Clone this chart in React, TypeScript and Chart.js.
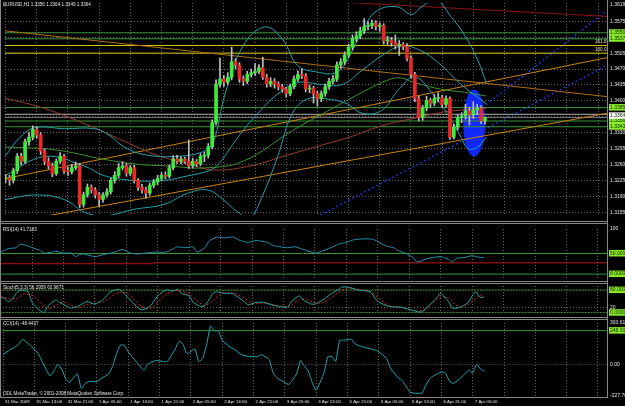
import React, { useEffect, useRef } from "react";
import { Chart, registerables } from "chart.js";
Chart.register(...registerables);

const FONT = "'Liberation Sans', Arial, sans-serif";
const TEXT = "#e4e4e4";
const GRID = "rgba(125,125,125,0.8)";
const BULL = "rgb(60,235,60)";
const BEAR = "rgb(235,40,40)";
const WICK = "rgb(190,190,190)";
const TEAL = "rgb(35,160,170)";
const LVL_GREEN = "rgb(60,150,60)";
const LBL_GREEN = "rgb(135,235,40)";
const X_MIN = -0.15;
const X_MAX = 154.3;

// ---------- time axis ----------
const timeLabels = [
  "31 Mar 2009", "31 Mar 13:00", "31 Mar 21:00", "1 Apr 05:00", "1 Apr 13:00", "1 Apr 21:00",
  "2 Apr 05:00", "2 Apr 13:00", "2 Apr 21:00", "3 Apr 05:00", "3 Apr 13:00", "5 Apr 21:00",
  "6 Apr 05:00", "6 Apr 13:00", "6 Apr 21:00", "7 Apr 05:00",
];
const timeLabelBars = [0, 8, 16, 24, 32, 40, 48, 56, 64, 72, 80, 88, 96, 104, 112, 120];
const gridBars = [0, 8, 16, 24, 32, 40, 48, 56, 64, 72, 80, 88, 96, 104, 112, 120, 128, 136, 144, 152];

// ---------- EURUSD H1 candles ----------
const opens = [
  1.3228, 1.3231, 1.3225, 1.3246, 1.3278, 1.3267, 1.3310, 1.3320, 1.3337, 1.3325,
  1.3289, 1.3267, 1.3257, 1.3240, 1.3267, 1.3278, 1.3246, 1.3244, 1.3253, 1.3257,
  1.3172, 1.3193, 1.3210, 1.3204, 1.3193, 1.3183, 1.3193, 1.3200, 1.3225, 1.3236,
  1.3253, 1.3257, 1.3240, 1.3253, 1.3225, 1.3210, 1.3204, 1.3197, 1.3214, 1.3221,
  1.3229, 1.3236, 1.3234, 1.3253, 1.3272, 1.3267, 1.3272, 1.3267, 1.3257, 1.3267,
  1.3261, 1.3278, 1.3280, 1.3299, 1.3352, 1.3437, 1.3448, 1.3441, 1.3452, 1.3486,
  1.3479, 1.3448, 1.3443, 1.3458, 1.3462, 1.3465, 1.3473, 1.3452, 1.3437, 1.3443,
  1.3437, 1.3431, 1.3426, 1.3416, 1.3431, 1.3448, 1.3458, 1.3455, 1.3426, 1.3428,
  1.3416, 1.3405, 1.3416, 1.3431, 1.3443, 1.3448, 1.3479, 1.3486, 1.3501, 1.3518,
  1.3537, 1.3543, 1.3554, 1.3564, 1.3566, 1.3571, 1.3564, 1.3566, 1.3532, 1.3534,
  1.3528, 1.3522, 1.3524, 1.3520, 1.3494, 1.3458, 1.3405, 1.3363, 1.3384, 1.3401,
  1.3395, 1.3405, 1.3407, 1.3392, 1.3405, 1.3320, 1.3342, 1.3363, 1.3367, 1.3378,
  1.3369, 1.3380, 1.3384, 1.3356,
];
const highs = [
  1.3238, 1.3236, 1.3252, 1.3284, 1.3285, 1.3316, 1.3331, 1.3345, 1.3343, 1.3330,
  1.3294, 1.3275, 1.3263, 1.3272, 1.3286, 1.3282, 1.3254, 1.3260, 1.3265, 1.3262,
  1.3199, 1.3217, 1.3215, 1.3209, 1.3198, 1.3198, 1.3207, 1.3230, 1.3244, 1.3262,
  1.3266, 1.3262, 1.3258, 1.3258, 1.3229, 1.3216, 1.3210, 1.3219, 1.3227, 1.3236,
  1.3242, 1.3244, 1.3259, 1.3279, 1.3280, 1.3277, 1.3276, 1.3314, 1.3274, 1.3271,
  1.3284, 1.3287, 1.3306, 1.3358, 1.3446, 1.3494, 1.3456, 1.3462, 1.3518, 1.3493,
  1.3484, 1.3455, 1.3465, 1.3470, 1.3482, 1.3480, 1.3496, 1.3458, 1.3451, 1.3449,
  1.3442, 1.3436, 1.3430, 1.3437, 1.3455, 1.3466, 1.3470, 1.3460, 1.3435, 1.3432,
  1.3421, 1.3422, 1.3437, 1.3450, 1.3456, 1.3486, 1.3493, 1.3508, 1.3525, 1.3545,
  1.3552, 1.3562, 1.3581, 1.3574, 1.3578, 1.3576, 1.3572, 1.3570, 1.3542, 1.3540,
  1.3545, 1.3533, 1.3528, 1.3526, 1.3499, 1.3463, 1.3410, 1.3390, 1.3410, 1.3406,
  1.3414, 1.3418, 1.3412, 1.3411, 1.3409, 1.3348, 1.3370, 1.3374, 1.3392, 1.3386,
  1.3398, 1.3392, 1.3389, 1.3364,
];
const lows = [
  1.3220, 1.3214, 1.3219, 1.3240, 1.3259, 1.3262, 1.3302, 1.3314, 1.3318, 1.3282,
  1.3259, 1.3250, 1.3233, 1.3236, 1.3262, 1.3240, 1.3236, 1.3239, 1.3248, 1.3165,
  1.3166, 1.3188, 1.3197, 1.3186, 1.3168, 1.3177, 1.3188, 1.3195, 1.3219, 1.3231,
  1.3248, 1.3234, 1.3235, 1.3219, 1.3203, 1.3197, 1.3186, 1.3192, 1.3209, 1.3215,
  1.3224, 1.3228, 1.3230, 1.3248, 1.3262, 1.3261, 1.3262, 1.3251, 1.3252, 1.3255,
  1.3257, 1.3266, 1.3274, 1.3294, 1.3347, 1.3430, 1.3432, 1.3436, 1.3446, 1.3470,
  1.3441, 1.3434, 1.3438, 1.3452, 1.3456, 1.3460, 1.3447, 1.3430, 1.3431, 1.3428,
  1.3424, 1.3419, 1.3408, 1.3411, 1.3426, 1.3443, 1.3449, 1.3420, 1.3418, 1.3395,
  1.3388, 1.3398, 1.3410, 1.3425, 1.3437, 1.3443, 1.3472, 1.3480, 1.3495, 1.3512,
  1.3530, 1.3537, 1.3548, 1.3556, 1.3559, 1.3556, 1.3553, 1.3525, 1.3524, 1.3520,
  1.3514, 1.3500, 1.3512, 1.3488, 1.3450, 1.3398, 1.3356, 1.3357, 1.3378, 1.3386,
  1.3389, 1.3398, 1.3386, 1.3386, 1.3315, 1.3316, 1.3336, 1.3352, 1.3360, 1.3347,
  1.3361, 1.3370, 1.3350, 1.3349,
];
const closes = [
  1.3231, 1.3225, 1.3246, 1.3278, 1.3267, 1.3310, 1.3320, 1.3337, 1.3325, 1.3289,
  1.3267, 1.3257, 1.3240, 1.3267, 1.3278, 1.3246, 1.3244, 1.3253, 1.3257, 1.3172,
  1.3193, 1.3210, 1.3204, 1.3193, 1.3183, 1.3193, 1.3200, 1.3225, 1.3236, 1.3253,
  1.3257, 1.3240, 1.3253, 1.3225, 1.3210, 1.3204, 1.3197, 1.3214, 1.3221, 1.3229,
  1.3236, 1.3234, 1.3253, 1.3272, 1.3267, 1.3272, 1.3267, 1.3257, 1.3267, 1.3261,
  1.3278, 1.3280, 1.3299, 1.3352, 1.3437, 1.3448, 1.3441, 1.3452, 1.3486, 1.3479,
  1.3448, 1.3443, 1.3458, 1.3462, 1.3465, 1.3473, 1.3452, 1.3437, 1.3443, 1.3437,
  1.3431, 1.3426, 1.3416, 1.3431, 1.3448, 1.3458, 1.3455, 1.3426, 1.3428, 1.3416,
  1.3405, 1.3416, 1.3431, 1.3443, 1.3448, 1.3479, 1.3486, 1.3501, 1.3518, 1.3537,
  1.3543, 1.3554, 1.3564, 1.3566, 1.3571, 1.3564, 1.3566, 1.3532, 1.3534, 1.3528,
  1.3522, 1.3524, 1.3520, 1.3494, 1.3458, 1.3405, 1.3363, 1.3384, 1.3401, 1.3395,
  1.3405, 1.3407, 1.3392, 1.3405, 1.3320, 1.3342, 1.3363, 1.3367, 1.3378, 1.3369,
  1.3380, 1.3384, 1.3356, 1.3364,
];

// ---------- overlays on the price window: [bar, price] ----------
const bbUpper = [
  [-0.15, 1.32775], [3.7, 1.33197], [7.5, 1.33409], [15.1, 1.33387], [22.8, 1.33387], [26.6, 1.3324],
  [30.4, 1.32986], [35.5, 1.32817], [43.1, 1.32775], [50.7, 1.32881], [53.3, 1.33092], [56.3, 1.34148],
  [60.9, 1.35204], [66.5, 1.35626], [71.1, 1.35352], [74.9, 1.34781], [80.0, 1.34634], [85.1, 1.34634],
  [88.9, 1.35098], [92.0, 1.35626], [95.3, 1.35985], [100.4, 1.3607], [104.2, 1.35901], [106.7, 1.3607],
  [110.5, 1.36218], [114.4, 1.35837], [117.7, 1.35457], [121.2, 1.34887], [123.3, 1.34401],
];
const bbMiddle = [
  [-0.15, 1.32353], [10.0, 1.32775], [20.2, 1.32564], [25.3, 1.32353], [33.0, 1.32247], [40.6, 1.32247],
  [46.9, 1.32353], [52.0, 1.32458], [54.6, 1.32606], [59.6, 1.33197], [64.7, 1.33725], [69.8, 1.34148],
  [74.9, 1.34401], [81.3, 1.34359], [86.4, 1.34359], [91.5, 1.34676], [96.5, 1.34993], [101.6, 1.35204],
  [106.7, 1.35098], [111.8, 1.34781], [116.9, 1.34359], [123.3, 1.33937],
];
const bbLower = [
  [-0.15, 1.31825], [7.5, 1.3193], [15.1, 1.31825], [20.2, 1.3155], [25.3, 1.31466], [33.0, 1.31613],
  [40.6, 1.31719], [46.9, 1.31972], [52.0, 1.32036], [55.8, 1.31825], [59.6, 1.3155], [62.7, 1.31423],
  [66.0, 1.3193], [69.8, 1.32775], [73.6, 1.33725], [77.5, 1.34042], [82.5, 1.34042], [87.6, 1.33937],
  [91.5, 1.33725], [96.5, 1.33789], [100.9, 1.34253], [105.0, 1.34528], [110.0, 1.34106], [113.6, 1.33683],
  [116.9, 1.33197], [118.7, 1.32944], [121.2, 1.32986], [123.3, 1.33197],
];
const maGreen = [
  [-0.15, 1.32986], [12.6, 1.32923], [25.3, 1.32712], [33.7, 1.32606], [42.3, 1.32564], [50.7, 1.32522],
  [60.9, 1.32669], [73.6, 1.33345], [83.8, 1.33831], [89.7, 1.34106], [96.5, 1.34401], [100.9, 1.34507],
  [105.0, 1.34401], [111.8, 1.34253], [117.7, 1.3419], [123.3, 1.34106],
];
const maRed = [
  [-0.15, 1.34064], [10.0, 1.33831], [21.0, 1.33472], [33.7, 1.32986], [39.8, 1.32775], [46.4, 1.32627],
  [53.3, 1.32479], [62.7, 1.32564], [71.1, 1.32775], [79.5, 1.32986], [88.1, 1.33197], [96.5, 1.33451],
  [105.0, 1.3362], [113.6, 1.33768], [123.3, 1.33831],
];
const trendDown = [[-0.15, 1.35542], [154.3, 1.34093]];
const trendUpHigh = [[-0.15, 1.32289], [154.3, 1.3495]];
const trendUpLow = [[-0.15, 1.31297], [154.3, 1.33725]];
const trendTop = [[85.0, 1.36179], [154.3, 1.35858]];
const blueLineA = [[80.8, 1.31487], [154.3, 1.34781]];
const blueLineB = [[123.3, 1.33915], [154.3, 1.35985]];
const greenLevels = [1.35499, 1.35366, 1.33852, 1.33556, 1.3343];
const fiboLevels = [1.35219, 1.3505];
const greyLevel = 1.33704;
const bidLevel = 1.33632;
const ellipseCenter = [120.2, 1.33514];

// ---------- sub windows: [bar, value] ----------
const rsi = [
  [0, 52.7], [2, 60.0], [4, 61.8], [5, 69.1], [7, 65.5], [8, 61.8], [10, 56.4], [11, 50.9], [13, 52.7],
  [14, 54.5], [16, 50.9], [18, 50.9], [19, 43.6], [20, 47.3], [21, 49.1], [24, 43.6], [26, 47.3],
  [29, 52.7], [31, 58.2], [33, 50.9], [35, 49.1], [39, 52.7], [42, 52.7], [44, 60.0], [45, 63.6],
  [47, 61.8], [49, 63.6], [50, 52.7], [52, 61.8], [53, 74.5], [55, 83.6], [57, 81.8], [59, 83.6],
  [61, 76.4], [63, 72.7], [65, 76.4], [68, 72.7], [69, 67.3], [71, 63.6], [73, 61.8], [75, 63.6],
  [77, 58.2], [80, 50.9], [81, 52.7], [84, 61.8], [86, 69.1], [88, 72.7], [90, 78.2], [93, 80.0],
  [95, 78.2], [98, 65.5], [100, 61.8], [101, 56.4], [103, 50.9], [105, 41.8], [106, 32.7], [108, 38.2],
  [110, 41.8], [112, 43.6], [114, 38.2], [115, 32.7], [116, 40.0], [118, 41.8], [120, 45.5], [122, 41.8],
  [123, 41.7],
];
const rsiRedLine = [[-0.15, 29.1], [39, 29.1], [39, 30.9], [154.3, 30.9]];
const rsiLevels = [50, 8];

const stochMain = [
  [0, 54.2], [1, 51.4], [2, 39.9], [3, 48.5], [4, 68.5], [5, 79.9], [7, 74.2], [8, 37.1], [10, 8.6],
  [11, 1.5], [12, 22.8], [14, 45.6], [15, 37.1], [17, 22.8], [18, 17.1], [20, 25.7], [22, 39.9],
  [24, 31.4], [26, 45.6], [28, 74.2], [30, 82.7], [31, 74.2], [33, 45.6], [35, 17.1], [36, 11.4],
  [38, 22.8], [40, 59.9], [42, 79.9], [44, 77.0], [45, 82.7], [46, 68.5], [48, 59.9], [49, 37.1],
  [51, 22.8], [52, 25.7], [53, 45.6], [54, 68.5], [55, 74.2], [57, 68.5], [59, 68.5], [60, 59.9],
  [62, 39.9], [63, 28.5], [65, 37.1], [67, 37.1], [69, 28.5], [71, 22.8], [73, 20.0], [74, 39.9],
  [76, 59.9], [77, 45.6], [79, 31.4], [80, 31.4], [82, 45.6], [84, 65.6], [86, 82.7], [87, 91.3],
  [89, 88.4], [91, 79.9], [94, 74.2], [96, 39.9], [99, 22.8], [102, 20.0], [105, 8.6], [107, 2.9],
  [109, 25.7], [111, 54.2], [112, 68.5], [114, 39.9], [115, 17.1], [117, 20.0], [119, 37.1],
  [120, 59.9], [121, 74.2], [122, 54.2], [123, 56.3],
];
const stochSignal = [
  [0, 58], [2, 50], [4, 50], [6, 66], [8, 62], [10, 38], [12, 14], [14, 26], [16, 38], [18, 26], [20, 20],
  [22, 30], [24, 34], [26, 38], [28, 55], [30, 72], [32, 70], [34, 48], [36, 22], [38, 15], [40, 38],
  [42, 62], [44, 78], [46, 76], [48, 66], [50, 42], [52, 26], [54, 42], [56, 66], [58, 70], [60, 66],
  [62, 52], [64, 34], [66, 34], [68, 34], [70, 26], [72, 22], [74, 28], [76, 46], [78, 46], [80, 36],
  [82, 36], [84, 52], [86, 72], [88, 86], [90, 86], [92, 80], [94, 76], [96, 54], [98, 32], [100, 22],
  [102, 18], [104, 12], [106, 6], [108, 12], [110, 36], [112, 56], [114, 52], [116, 26], [118, 24],
  [120, 40], [122, 62], [123, 63.0],
];
const stochLevels = [80, 1];

const cci = [
  [0, 72.7], [1, 93.7], [3, 128.7], [4, 149.7], [5, 184.6], [6, 163.6], [7, 142.7], [9, 79.7], [10, 23.8],
  [11, -32.2], [12, -81.1], [13, -46.2], [14, 2.8], [15, -32.2], [16, -102.1], [17, -130.1], [18, -95.1],
  [19, -67.1], [20, -172.0], [21, -137.1], [22, -123.1], [24, -123.1], [25, -102.1], [27, -67.1],
  [28, -11.2], [29, 79.7], [30, 142.7], [31, 142.7], [32, 93.7], [34, 23.8], [36, -39.2], [37, 2.8],
  [39, 30.8], [41, 23.8], [42, 23.8], [44, 114.7], [45, 170.6], [46, 149.7], [47, 79.7], [49, 114.7],
  [50, 23.8], [51, 44.8], [52, 142.7], [53, 282.5], [54, 247.6], [55, 247.6], [56, 177.6], [58, 128.7],
  [59, 114.7], [61, 72.7], [63, 58.7], [65, 58.7], [66, 72.7], [68, 37.8], [69, -60.1], [70, -95.1],
  [72, -130.1], [73, -144.1], [75, -67.1], [76, 30.8], [77, -11.2], [78, -46.2], [79, -130.1],
  [80, -186.0], [82, -60.1], [83, 58.7], [84, 58.7], [85, 23.8], [86, 177.6], [87, 177.6], [89, 184.6],
  [90, 149.7], [92, 128.7], [95, 107.7], [96, 93.7], [98, 44.8], [99, -25.2], [101, -95.1],
  [102, -116.1], [104, -200.0], [105, -207.0], [107, -207.0], [108, -151.0], [109, -102.1],
  [110, -81.1], [112, -53.1], [113, -60.1], [114, -116.1], [115, -137.1], [117, -95.1], [118, -67.1],
  [119, -39.2], [120, -60.1], [121, 2.8], [122, -32.2], [123, -48.4],
];
const cciLevel = 248;

// ---------- helpers ----------
const pts = (arr: number[][]) => arr.map((p) => ({ x: p[0], y: p[1] }));
const curve = (arr: number[][], color: string, extra: any = {}) => ({
  type: "line", data: pts(arr), borderColor: color, borderWidth: 1, pointRadius: 0,
  tension: 0.4, fill: false, ...extra,
});
const straight = (arr: number[][], color: string, extra: any = {}) => ({
  type: "line", data: pts(arr), borderColor: color, borderWidth: 1, pointRadius: 0,
  tension: 0, fill: false, ...extra,
});
const hline = (v: number, color: string, extra: any = {}) =>
  straight([[-1, v], [160, v]], color, extra);

const xScale = (showLabels: boolean) => ({
  type: "linear", min: X_MIN, max: X_MAX, offset: false,
  afterBuildTicks: (s: any) => { s.ticks = gridBars.map((v) => ({ value: v })); },
  afterFit: (s: any) => { s.height = showLabels ? 10 : 0; },
  grid: { color: GRID, lineWidth: 1, drawTicks: false, offset: false },
  border: { display: false, dash: [1, 2] },
  ticks: {
    display: showLabels, autoSkip: false, maxRotation: 0, minRotation: 0, align: "start",
    labelOffset: 2, padding: 3, color: TEXT, font: { family: FONT, size: 4.4 },
    callback: (v: number) => { const k = timeLabelBars.indexOf(v); return k >= 0 ? timeLabels[k] : ""; },
  },
});

type TickDef = { v: number; l: string; g?: string; bg?: string };
const yScale = (min: number, max: number, list: TickDef[]) => ({
  type: "linear", position: "right", min, max,
  afterBuildTicks: (s: any) => { s.ticks = list.map((t) => ({ value: t.v })); },
  afterFit: (s: any) => { s.width = 18; },
  grid: {
    color: (c: any) => (list[c.index] && list[c.index].g) || "rgba(0,0,0,0)",
    lineWidth: 1, drawTicks: false,
  },
  border: { display: false, dash: [1, 2] },
  ticks: {
    autoSkip: false, padding: 3, font: { family: FONT, size: 5 },
    color: (c: any) => (list[c.index] && list[c.index].bg ? "#102000" : TEXT),
    showLabelBackdrop: true,
    backdropColor: (c: any) => (list[c.index] && list[c.index].bg) || "rgba(0,0,0,0)",
    backdropPadding: { top: 0.5, bottom: 0, left: 1, right: 4 },
    callback: (_v: number, i: number) => (list[i] ? list[i].l : ""),
  },
});

const baseOptions = (padTop: number, padBottom: number, x: any, y: any) => ({
  responsive: false, maintainAspectRatio: false, animation: false, devicePixelRatio: 1, events: [],
  layout: { padding: { top: padTop, bottom: padBottom, left: 0, right: 0 } },
  plugins: { legend: { display: false }, tooltip: { enabled: false }, title: { display: false } },
  scales: { x, y },
});

// ---------- tick lists ----------
const mainTicks: TickDef[] = [
  { v: 1.3155, l: "1.3155", g: GRID }, { v: 1.319, l: "1.3190", g: GRID }, { v: 1.3225, l: "1.3225", g: GRID },
  { v: 1.326, l: "1.3260", g: GRID }, { v: 1.3295, l: "1.3295", g: GRID }, { v: 1.333, l: "1.3330", g: GRID },
  { v: 1.3343, l: "1.3343", bg: LBL_GREEN }, { v: 1.33556, l: "1.3356", bg: LBL_GREEN },
  { v: 1.3365, l: "", g: GRID }, { v: 1.3367, l: "1.3364", bg: "#ffffff" },
  { v: 1.33852, l: "1.3385", bg: LBL_GREEN }, { v: 1.34, l: "1.3400", g: GRID },
  { v: 1.3435, l: "1.3435", g: GRID }, { v: 1.347, l: "1.3470", g: GRID }, { v: 1.3505, l: "1.3505", g: GRID },
  { v: 1.35366, l: "1.3537", bg: LBL_GREEN }, { v: 1.354, l: "", g: GRID },
  { v: 1.35499, l: "1.3550", bg: LBL_GREEN }, { v: 1.3575, l: "1.3575", g: GRID },
  { v: 1.36122, l: "1.3619" },
];
const rsiTicks: TickDef[] = [
  { v: 8, l: "8.0000", bg: LBL_GREEN }, { v: 50, l: "50.0000", bg: LBL_GREEN }, { v: 100, l: "100" },
];
const stochTicks: TickDef[] = [
  { v: 1, l: "0.0000", bg: LBL_GREEN }, { v: 20, l: "20", g: GRID }, { v: 80, l: "80.0000", bg: LBL_GREEN },
];
const cciTicks: TickDef[] = [
  { v: -227.764, l: "-227.764" }, { v: 0, l: "0.00", g: GRID },
  { v: cciLevel, l: "248.000", bg: LBL_GREEN }, { v: 303.616, l: "303.616" },
];

// ---------- chart factories ----------
function makeEllipse() {
  const c = document.createElement("canvas");
  c.width = 23; c.height = 68;
  const g = c.getContext("2d") as CanvasRenderingContext2D;
  g.fillStyle = "rgb(18,40,250)";
  g.beginPath();
  g.ellipse(11.5, 34, 11, 33.5, 0, 0, Math.PI * 2);
  g.fill();
  return c;
}

function mainConfig(): any {
  const up = (i: number) => closes[i] >= opens[i];
  const datasets: any[] = [
    {
      type: "bar", data: closes.map((c, i) => ({ x: i, y: [Math.min(opens[i], c), Math.max(opens[i], c)] })),
      backgroundColor: (ctx: any) => (up(ctx.dataIndex) ? BULL : BEAR), barThickness: 3, minBarLength: 1,
      grouped: false, borderWidth: 0,
    },
    {
      type: "bar", data: highs.map((h, i) => ({ x: i, y: [lows[i], h] })),
      backgroundColor: WICK, barThickness: 1, grouped: false, borderWidth: 0,
    },
    curve(bbUpper, TEAL), curve(bbMiddle, TEAL), curve(bbLower, TEAL),
    curve(maGreen, "rgb(60,145,45)"), curve(maRed, "rgb(150,60,50)"),
    straight(trendDown, "rgb(170,110,20)"), straight(trendUpHigh, "rgb(200,130,20)"),
    straight(trendUpLow, "rgb(200,130,20)"), straight(trendTop, "rgb(140,20,20)"),
    ...greenLevels.map((v) => hline(v, LVL_GREEN)),
    ...fiboLevels.map((v) => hline(v, "rgb(215,200,0)")),
    hline(greyLevel, "rgb(175,175,175)"), hline(bidLevel, "rgb(120,120,120)"),
    straight(blueLineA, "rgb(30,60,255)", { borderDash: [1.5, 3], borderWidth: 1.5 }),
    straight(blueLineB, "rgb(30,60,255)", { borderDash: [1.5, 3], borderWidth: 1.5 }),
    {
      type: "line", showLine: false, data: [{ x: ellipseCenter[0], y: ellipseCenter[1] }],
      pointStyle: makeEllipse(), pointRadius: 5, borderWidth: 0,
    },
  ];
  return {
    type: "line", data: { datasets },
    options: baseOptions(3, 0, xScale(false), yScale(1.31487, 1.36154, mainTicks)),
  };
}
function rsiConfig(): any {
  const datasets: any[] = [
    curve(rsi, "rgb(40,140,170)", { tension: 0.2 }),
    straight(rsiRedLine, "rgb(190,20,20)"),
    ...rsiLevels.map((v) => hline(v, LVL_GREEN)),
  ];
  return { type: "line", data: { datasets }, options: baseOptions(3, 3, xScale(false), yScale(0, 100, rsiTicks)) };
}
function stochConfig(): any {
  const datasets: any[] = [
    curve(stochMain, "rgb(35,165,165)", { tension: 0.2 }),
    curve(stochSignal, "rgb(220,30,30)", { tension: 0.3, borderDash: [2, 2] }),
    ...stochLevels.map((v) => hline(v, "rgb(90,170,60)", { borderDash: [2, 1] })),
  ];
  return { type: "line", data: { datasets }, options: baseOptions(3, 3, xScale(false), yScale(0, 94.3, stochTicks)) };
}
function cciConfig(): any {
  const datasets: any[] = [
    curve(cci, "rgb(35,165,175)", { tension: 0.15 }),
    hline(cciLevel, LVL_GREEN),
  ];
  return { type: "line", data: { datasets }, options: baseOptions(3, 0, xScale(true), yScale(-227.764, 303.616, cciTicks)) };
}

function ChartBox({ top, height, make }: { top: number; height: number; make: () => any }) {
  const ref = useRef<HTMLCanvasElement | null>(null);
  useEffect(() => {
    const chart = new Chart(ref.current as HTMLCanvasElement, make());
    return () => chart.destroy();
  }, []);
  return (
    <canvas ref={ref} width={625} height={height}
      style={{ position: "absolute", left: 0, top, width: 625, height, display: "block" }} />
  );
}

function Txt({ x, y, s, color = TEXT }: { x: number; y: number; s: string; color?: string }) {
  return (
    <div style={{
      position: "absolute", left: x, top: y, fontFamily: FONT, fontSize: 9.2, lineHeight: "10px",
      color, whiteSpace: "nowrap", transform: "scale(0.5)", transformOrigin: "0 0",
    }}>{s}</div>
  );
}

function Rule({ x, y, w, h, c = "rgb(135,135,135)" }: { x: number; y: number; w: number; h: number; c?: string }) {
  return <div style={{ position: "absolute", left: x, top: y, width: w, height: h, background: c }} />;
}

export default function App() {
  return (
    <div style={{ position: "fixed", left: 0, top: 0, width: 625, height: 406, background: "#000", overflow: "hidden" }}>
      <ChartBox top={-3} height={224} make={mainConfig} />
      <ChartBox top={223} height={61} make={rsiConfig} />
      <ChartBox top={280} height={39} make={stochConfig} />
      <ChartBox top={317} height={89} make={cciConfig} />

      <Rule x={0} y={0} w={1} h={398} />
      <Rule x={607} y={0} w={1} h={398} />
      <Rule x={0} y={221} w={608} h={1} />
      <Rule x={0} y={223} w={608} h={1} />
      <Rule x={0} y={281} w={608} h={1} />
      <Rule x={0} y={283} w={608} h={1} />
      <Rule x={0} y={317} w={608} h={1} />
      <Rule x={0} y={319} w={608} h={1} />
      <Rule x={0} y={397} w={608} h={1} />

      <Txt x={3} y={1.5} s="EURUSD,H1 1.3356 1.3364 1.3349 1.3364" />
      <Txt x={595} y={38.5} s="161.8" color="rgb(230,225,190)" />
      <Txt x={595} y={46.5} s="100.0" color="rgb(230,225,190)" />
      <Txt x={3} y={226.5} s="RSI(14) 41.7183" />
      <Txt x={3} y={284.5} s="Stoch(5,3,3) 56.2959 62.9871" />
      <Txt x={3} y={320.5} s="CCI(14) -48.4437" />
      <Txt x={3} y={390.5} s="ODL MetaTrader, © 2001-2008 MetaQuotes Software Corp." />
    </div>
  );
}
